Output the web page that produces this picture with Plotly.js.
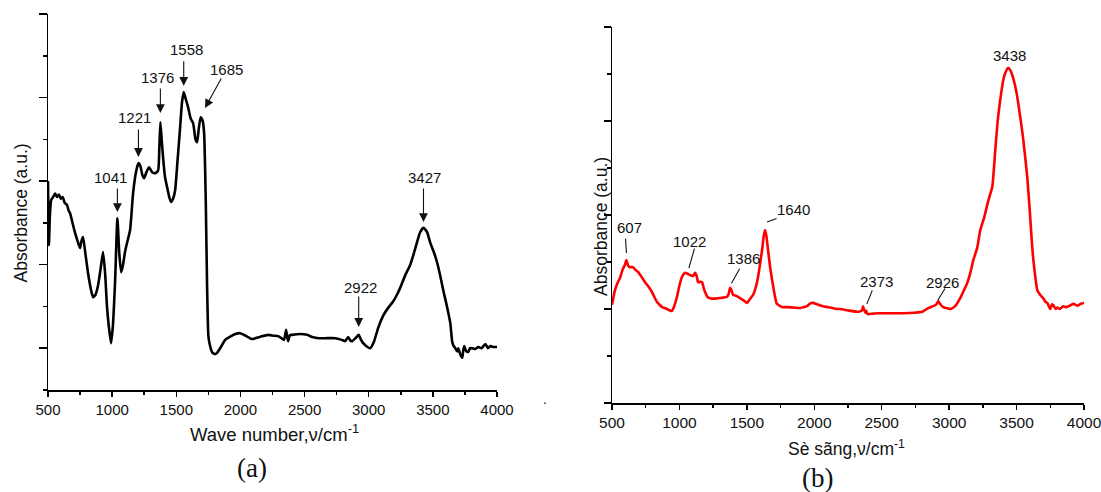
<!DOCTYPE html>
<html>
<head>
<meta charset="utf-8">
<script src="https://cdn.plot.ly/plotly-3.0.1.min.js"></script>
<style>
  html, body { margin: 0; padding: 0; background: #fff; }
  #chart { width: 1101px; height: 492px; }
</style>
</head>
<body>
<div id="chart"></div>
<script>
// ---------- Data: panel (a) ----------
var wnA = [500, 507, 515, 525, 540, 555, 570, 585, 600, 615, 630, 648, 660, 672, 695, 711, 735, 750, 760, 773, 790, 812, 835, 851, 870, 890, 910, 929, 945, 960, 975, 991, 1005, 1023, 1041, 1055, 1070, 1085, 1100, 1116, 1140, 1163, 1185, 1205, 1221, 1235, 1249, 1268, 1288, 1310, 1335, 1358, 1368, 1376, 1386, 1397, 1412, 1428, 1445, 1459, 1475, 1491, 1510, 1530, 1545, 1558, 1575, 1592, 1612, 1631, 1650, 1662, 1675, 1690, 1705, 1717, 1730, 1740, 1750, 1760, 1780, 1800, 1815, 1842, 1881, 1920, 1960, 1998, 2040, 2091, 2150, 2216, 2260, 2294, 2320, 2340, 2356, 2365, 2372, 2385, 2403, 2466, 2520, 2559, 2610, 2661, 2739, 2790, 2817, 2840, 2858, 2871, 2900, 2922, 2940, 2957, 2985, 3012, 3040, 3075, 3113, 3150, 3189, 3220, 3246, 3285, 3324, 3350, 3375, 3400, 3427, 3455, 3480, 3510, 3534, 3560, 3581, 3610, 3636, 3651, 3663, 3675, 3690, 3698, 3714, 3729, 3737, 3745, 3760, 3776, 3790, 3807, 3830, 3854, 3880, 3909, 3930, 3948, 3975, 4000];
var absA = [0.500, 0.347, 0.420, 0.455, 0.462, 0.470, 0.462, 0.468, 0.458, 0.462, 0.448, 0.443, 0.430, 0.423, 0.395, 0.376, 0.352, 0.340, 0.356, 0.366, 0.330, 0.280, 0.240, 0.222, 0.228, 0.250, 0.290, 0.330, 0.280, 0.199, 0.150, 0.112, 0.150, 0.260, 0.411, 0.330, 0.282, 0.300, 0.330, 0.352, 0.383, 0.470, 0.520, 0.543, 0.535, 0.515, 0.507, 0.522, 0.533, 0.522, 0.519, 0.525, 0.580, 0.641, 0.600, 0.557, 0.510, 0.486, 0.462, 0.450, 0.458, 0.478, 0.550, 0.629, 0.690, 0.713, 0.695, 0.677, 0.650, 0.639, 0.600, 0.593, 0.625, 0.653, 0.645, 0.615, 0.450, 0.250, 0.130, 0.110, 0.090, 0.086, 0.088, 0.100, 0.120, 0.128, 0.134, 0.136, 0.130, 0.122, 0.127, 0.132, 0.130, 0.129, 0.124, 0.120, 0.144, 0.125, 0.117, 0.131, 0.132, 0.134, 0.132, 0.127, 0.124, 0.124, 0.124, 0.120, 0.117, 0.127, 0.118, 0.117, 0.125, 0.132, 0.120, 0.112, 0.104, 0.100, 0.115, 0.150, 0.178, 0.196, 0.211, 0.228, 0.245, 0.275, 0.300, 0.325, 0.352, 0.377, 0.388, 0.378, 0.352, 0.328, 0.304, 0.270, 0.239, 0.200, 0.160, 0.115, 0.105, 0.100, 0.092, 0.100, 0.085, 0.077, 0.095, 0.105, 0.093, 0.091, 0.100, 0.100, 0.098, 0.103, 0.100, 0.110, 0.100, 0.105, 0.103, 0.103];

// Peak labels (a): text, arrow-head position (wavenumber, absorbance)
var peakTextA = ['1041', '1221', '1376', '1558', '1685', '2922', '3427'];
var peakWnA   = [1041, 1205, 1376, 1558, 1724, 2922, 3427];
var peakAbsA  = [0.426, 0.558, 0.663, 0.728, 0.675, 0.151, 0.402];

// ---------- Data: panel (b) ----------
var wnB = [500, 522, 540, 559, 580, 596, 607, 620, 634, 656, 675, 693, 720, 745, 770, 797, 815, 834, 850, 871, 890, 908, 930, 945, 960, 982, 1000, 1019, 1042, 1060, 1079, 1100, 1116, 1130, 1138, 1155, 1168, 1180, 1190, 1210, 1227, 1260, 1287, 1320, 1353, 1365, 1376, 1386, 1398, 1420, 1435, 1455, 1472, 1490, 1502, 1520, 1546, 1565, 1583, 1600, 1613, 1625, 1635, 1645, 1657, 1672, 1687, 1700, 1709, 1720, 1732, 1760, 1798, 1850, 1895, 1920, 1947, 1970, 1991, 2020, 2066, 2120, 2170, 2192, 2250, 2318, 2340, 2355, 2362, 2370, 2378, 2385, 2392, 2400, 2430, 2466, 2550, 2659, 2740, 2800, 2845, 2882, 2905, 2919, 2935, 2956, 2980, 3008, 3045, 3082, 3110, 3134, 3160, 3179, 3208, 3231, 3260, 3282, 3300, 3320, 3342, 3360, 3379, 3400, 3416, 3438, 3455, 3475, 3500, 3527, 3550, 3579, 3600, 3616, 3630, 3654, 3676, 3700, 3715, 3728, 3740, 3750, 3762, 3772, 3790, 3802, 3820, 3846, 3870, 3900, 3921, 3950, 3975, 4000];
var absB = [0.209, 0.240, 0.255, 0.266, 0.285, 0.294, 0.304, 0.292, 0.289, 0.289, 0.283, 0.279, 0.268, 0.257, 0.248, 0.236, 0.225, 0.215, 0.210, 0.204, 0.202, 0.200, 0.197, 0.196, 0.205, 0.226, 0.250, 0.268, 0.277, 0.275, 0.272, 0.270, 0.277, 0.268, 0.257, 0.258, 0.257, 0.245, 0.236, 0.225, 0.223, 0.222, 0.223, 0.224, 0.226, 0.232, 0.245, 0.240, 0.230, 0.228, 0.226, 0.222, 0.219, 0.215, 0.213, 0.220, 0.230, 0.245, 0.268, 0.300, 0.326, 0.355, 0.368, 0.355, 0.326, 0.290, 0.262, 0.240, 0.226, 0.212, 0.209, 0.204, 0.204, 0.203, 0.202, 0.204, 0.206, 0.212, 0.213, 0.210, 0.206, 0.203, 0.200, 0.200, 0.197, 0.194, 0.195, 0.198, 0.206, 0.198, 0.192, 0.196, 0.190, 0.189, 0.190, 0.191, 0.191, 0.191, 0.192, 0.194, 0.202, 0.206, 0.210, 0.217, 0.210, 0.204, 0.202, 0.200, 0.206, 0.223, 0.240, 0.255, 0.280, 0.304, 0.330, 0.368, 0.395, 0.421, 0.440, 0.460, 0.538, 0.600, 0.645, 0.685, 0.702, 0.713, 0.707, 0.691, 0.660, 0.609, 0.560, 0.481, 0.400, 0.332, 0.290, 0.240, 0.230, 0.222, 0.215, 0.213, 0.205, 0.200, 0.210, 0.208, 0.200, 0.203, 0.200, 0.206, 0.204, 0.208, 0.211, 0.207, 0.211, 0.213];

// Peak labels (b): text, leader-line end (wavenumber, absorbance)
var peakTextB = ['607', '1022', '1386', '1640', '2373', '2926', '3438'];
var peakWnB   = [607, 1070, 1386, 1650, 2390, 2917, 3438];
var peakAbsB  = [0.319, 0.287, 0.255, 0.385, 0.211, 0.219, 0.713];

var xTicks = [500, 1000, 1500, 2000, 2500, 3000, 3500, 4000];

// ---------- Styling ----------
var FONT = 'Arial, "Liberation Sans", sans-serif';
var SERIF = '"Times New Roman", "Liberation Serif", serif';
var W = 1101, H = 492;
function px(x) { return x / W; }
function py(y) { return (H - y) / H; }

// Label offsets (pixels): [tailDx, tailDy, textDx, textDy]
var offA = [[0, -25, -7, 35], [0, -29, -4, 39], [0, -26, -3, 35.5], [0, -26, 3, 36.5],
            [17, -31, 21, 38.5], [0, -32, 2, 39.5], [0, -35, 1, 45]];
var offB = [[-1, -16, 3, 25.5], [6, -21, 1, 26.5], [9, -16, 12, 25], [11, -4, 26, 12.5],
            [6, -15, 9.5, 22], [8, -13, 5, 18], [null, null, 1.5, 12]];

var annotations = [];
function addLabels(texts, xs, ys, offs, xr, yr, head) {
  for (var i = 0; i < texts.length; i++) {
    var o = offs[i];
    if (o[0] !== null) {
      annotations.push({
        xref: xr, yref: yr, x: xs[i], y: ys[i], text: '',
        showarrow: true, ax: o[0], ay: o[1], axref: 'pixel', ayref: 'pixel',
        arrowhead: head, arrowsize: head ? 1.6 : 1, arrowwidth: 1.1, arrowcolor: '#111',
        standoff: 0, startstandoff: 0
      });
    }
    annotations.push({
      xref: xr, yref: yr, x: xs[i], y: ys[i], text: texts[i],
      showarrow: false, xshift: o[2], yshift: o[3],
      xanchor: 'center', yanchor: 'middle',
      font: {family: FONT, size: 15, color: '#111'}
    });
  }
}
addLabels(peakTextA, peakWnA, peakAbsA, offA, 'x', 'y', 2);
addLabels(peakTextB, peakWnB, peakAbsB, offB, 'x2', 'y2', 0);

function paperText(text, x, y, size, family, angle) {
  annotations.push({
    xref: 'paper', yref: 'paper', x: px(x), y: py(y), text: text,
    showarrow: false, xanchor: 'center', yanchor: 'middle', textangle: angle || 0,
    font: {family: family, size: size, color: '#111'}
  });
}
paperText('Wave number,ν/cm<sup>-1</sup>', 274, 433, 18.5, FONT);
paperText('Sè sãng,ν/cm<sup>-1</sup>', 846, 448, 17.5, FONT);
paperText('Absorbance (a.u.)', 20, 213.5, 17.5, FONT, -90);
paperText('Absorbance (a.u.)', 601, 227, 17.5, FONT, -90);
paperText('(a)', 252, 468, 27, SERIF);
paperText('(b)', 817, 478, 27, SERIF);
paperText('.', 545, 399, 14, FONT);

function xAxis(domain, anchor, fsize) {
  return {
    domain: domain, anchor: anchor, range: [500, 4000],
    tickmode: 'array', tickvals: xTicks, ticktext: xTicks.map(String),
    ticks: 'outside', ticklen: 5, tickwidth: 1.5, tickcolor: '#000',
    minor: {dtick: 250, tick0: 500, ticks: 'outside', ticklen: 3.5, tickwidth: 1.5, tickcolor: '#000', showgrid: false},
    showline: true, linewidth: 1.5, linecolor: '#000', mirror: false,
    showgrid: false, zeroline: false, fixedrange: true,
    ticklabeloverflow: 'allow',
    tickfont: {family: FONT, size: fsize, color: '#111'}
  };
}
function yAxis(domain, anchor, range, tick0, majorLen) {
  return {
    domain: domain, anchor: anchor, range: range,
    tickmode: 'linear', tick0: tick0, dtick: 0.2,
    ticks: 'outside', ticklen: majorLen, tickwidth: 1.5, tickcolor: '#000',
    minor: {dtick: 0.1, tick0: 0, ticks: 'outside', ticklen: 4, tickwidth: 1.5, tickcolor: '#000', showgrid: false},
    showticklabels: false,
    showline: true, linewidth: 1.5, linecolor: '#000', mirror: false,
    showgrid: false, zeroline: false, fixedrange: true
  };
}

var traces = [
  {x: wnA, y: absA, xaxis: 'x', yaxis: 'y', type: 'scatter', mode: 'lines',
   line: {color: '#000000', width: 2.6, shape: 'spline', smoothing: 0.5}, hoverinfo: 'skip'},
  {x: wnB, y: absB, xaxis: 'x2', yaxis: 'y2', type: 'scatter', mode: 'lines',
   line: {color: '#ff0000', width: 2.6, shape: 'spline', smoothing: 0.5}, hoverinfo: 'skip'}
];

var layout = {
  width: W, height: H,
  margin: {l: 0, r: 0, t: 0, b: 0},
  paper_bgcolor: '#ffffff', plot_bgcolor: '#ffffff',
  showlegend: false,
  xaxis: xAxis([px(48), px(497)], 'y', 15),
  yaxis: yAxis([py(390), py(14)], 'x', [0, 0.9], 0.1, 8),
  xaxis2: xAxis([px(612), px(1084)], 'y2', 15.5),
  yaxis2: yAxis([py(403), py(27)], 'x2', [0, 0.8], 0, 7),
  annotations: annotations
};

Plotly.newPlot('chart', traces, layout, {displayModeBar: false, staticPlot: true});
</script>
</body>
</html>
